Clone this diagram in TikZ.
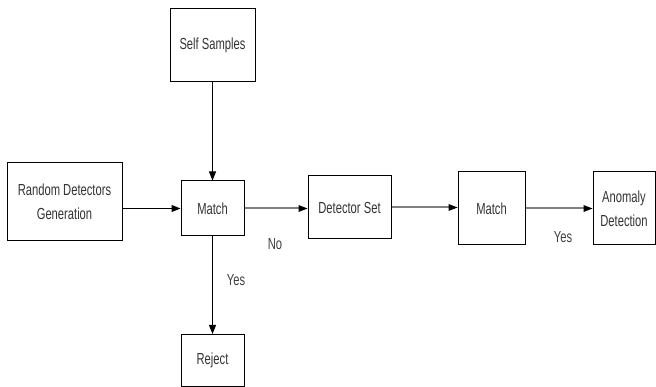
\documentclass[tikz,border=0pt]{standalone}
\usepackage{fontspec}
\setmainfont{Liberation Sans}[FakeStretch=0.7]
\usetikzlibrary{arrows.meta,calc}

\begin{document}
\begin{tikzpicture}[x=1pt,y=-1pt,
	block/.style={draw, rectangle, line width=1pt, align=center, text=black!80,
		font=\fontsize{16}{24}\selectfont},
	flow/.style={line width=1pt, -{Triangle[length=9pt,width=7pt]}},
	grayflow/.style={line width=2pt, draw=black!50, -{Triangle[length=9pt,width=7pt,color=black,line width=0pt]}},
	lbl/.style={text=black!75, font=\fontsize{16}{18}\selectfont}]
		
		\useasboundingbox (0,0) rectangle (656,387);
		
		%Nodes
		\node (selfSamples) at (212.5,45.5) [block, minimum width=85pt, minimum height=73pt]{Self Samples};
		
		\node (randomGen) at (64.5,202) [block, minimum width=115pt, minimum height=78pt]{Random Detectors\\Generation};
		
		\node (match1) at (212.5,208.5) [block, minimum width=63pt, minimum height=55pt]{Match};
		
		\node (detectorSet) at (349.5,207.5) [block, minimum width=83pt, minimum height=63pt]{Detector Set};
		
		\node (match2) at (491.5,208.5) [block, minimum width=67pt, minimum height=73pt]{Match};
		
		\node (anomaly) at (624,208.5) [block, minimum width=62pt, minimum height=73pt]{Anomaly\\Detection};
		
		\node (reject) at (212.5,360.5) [block, minimum width=63pt, minimum height=52pt]{Reject};
		
		%Links
		\draw[flow] (selfSamples.south) -- (match1.north);
		
		\draw[flow] (randomGen.east |- match1.west) -- (match1.west);
		
		\draw[grayflow] (match1.east) -- (match1.east -| detectorSet.west);
		
		\draw[grayflow] (detectorSet.east) -- (detectorSet.east -| match2.west);
		
		\draw[grayflow] (match2.east) -- (anomaly.west);
		
		\draw[flow] (match1.south) -- (reject.north);
		
		%Labels
		\node (no) at (275,244) [lbl]{No};
		\node (yes1) at (236,280) [lbl]{Yes};
		\node (yes2) at (563,237) [lbl]{Yes};
		\end{tikzpicture}
\end{document}
